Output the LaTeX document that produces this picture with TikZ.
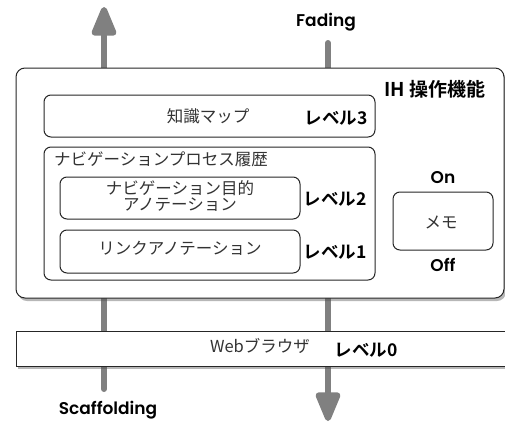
\documentclass[tikz,border=0pt]{standalone}
\usepackage{fontspec}
\setmainfont{Noto Sans CJK JP}
\newfontfamily\latinbold{Poppins}[UprightFont=* SemiBold]
\newfontfamily\jpbold{Noto Sans CJK JP}[UprightFont=* Bold]
\usetikzlibrary{arrows.meta,shadows}
\begin{document}
\begin{tikzpicture}[x=1pt,y=-1pt,
  boxshadow/.style={drop shadow={shadow xshift=2pt,shadow yshift=-3pt,opacity=0.4,fill=black!70}},
  roundbox/.style={draw=black!85,line width=1pt,fill=white,rounded corners=7pt,inner sep=0pt},
  plainbox/.style={draw=black!85,line width=1pt,fill=white,inner sep=0pt},
  jptext/.style={font=\fontsize{16.5}{18}\selectfont,text=black!80,inner sep=0pt},
  lvl/.style={font=\jpbold\fontsize{17.5}{19}\selectfont,text=black,inner sep=0pt},
  eng/.style={font=\latinbold\fontsize{17}{19}\selectfont,text=black,inner sep=0pt},
  flow/.style={draw=black!50,line width=6pt,line cap=round},
  flowtip/.style={-{Triangle[width=26pt,length=34pt,round]}}
]
\useasboundingbox (0,0) rectangle (505,423);
% flow arrows (behind boxes)
\coordinate (sbot) at (104,389);
\coordinate (stop) at (104,7);
\coordinate (ftop) at (328,43);
\coordinate (fbot) at (328,421);
\draw[flow,flowtip] (sbot) -- (stop);
\draw[flow,flowtip] (ftop) -- (fbot);
% outer box
\node[roundbox,boxshadow,rounded corners=9pt,minimum width=488pt,minimum height=230pt] (ih) at (260,183) {};
\node[lvl,font=\jpbold\fontsize{19}{21}\selectfont] (ihl) at (435,89) {IH 操作機能};
% knowledge map
\node[roundbox,minimum width=331pt,minimum height=42pt] (km) at (209.5,116) {};
\node[jptext] (kmt) at (208,116) {知識マップ};
\node[lvl] (l3) at (336,118) {レベル3};
% navigation process history
\node[roundbox,minimum width=331pt,minimum height=133pt] (np) at (209.5,213.5) {};
\node[jptext,anchor=west] (npt) at (54,159) {ナビゲーションプロセス履歴};
\node[roundbox,minimum width=240pt,minimum height=42pt] (nav) at (180,198) {};
\node[jptext,align=center,font=\fontsize{16.5}{16.5}\selectfont] (navt) at (180,196) {ナビゲーション目的\\アノテーション};
\node[lvl] (l2) at (335,199) {レベル2};
\node[roundbox,minimum width=240pt,minimum height=43pt] (lk) at (180,251.5) {};
\node[jptext] (lkt) at (180,248) {リンクアノテーション};
\node[lvl] (l1) at (335,252) {レベル1};
% memo
\node[roundbox,minimum width=100pt,minimum height=58pt] (memo) at (443,221) {};
\node[jptext] (memot) at (441,222) {メモ};
\node[eng] (on) at (443,178) {On};
\node[eng] (off) at (443,265) {Off};
% web browser
\node[plainbox,boxshadow,minimum width=490pt,minimum height=35pt] (web) at (261,348.5) {};
\node[jptext] (webt) at (260,346) {Webブラウザ};
\node[lvl] (l0) at (366,350) {レベル0};
% labels
\node[eng] (fad) at (326,22) {Fading};
\node[eng] (scaf) at (108,410) {Scaffolding};
\end{tikzpicture}
\end{document}
